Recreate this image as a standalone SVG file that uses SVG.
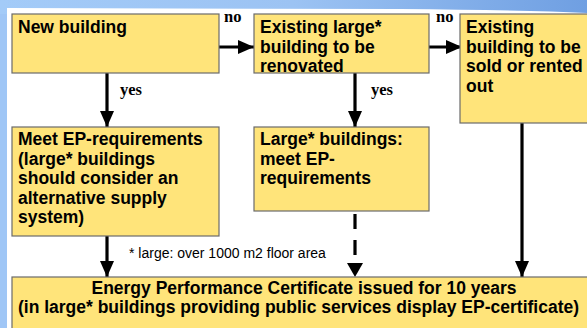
<svg xmlns="http://www.w3.org/2000/svg" width="587" height="328" viewBox="0 0 587 328">
<defs>
<linearGradient id="topg" x1="0" y1="0" x2="1" y2="0">
<stop offset="0" stop-color="#a3cbf8"/>
<stop offset="0.5" stop-color="#9cc3f3"/>
<stop offset="1" stop-color="#6f9fe2"/>
</linearGradient>
<marker id="ah" viewBox="0 0 16 14" refX="16" refY="7" markerWidth="16" markerHeight="14" markerUnits="userSpaceOnUse" orient="auto">
<path d="M0,0 L16,7 L0,14 Z" fill="#000"/>
</marker>
<style>
.box{fill:#ffe47a;stroke:#6b6b6b;stroke-width:1.2}
.t{font-family:"Liberation Sans",Arial,sans-serif;font-weight:bold;font-size:17.5px;fill:#000}
.lbl{font-family:"Liberation Serif","Times New Roman",serif;font-weight:bold;font-size:16.5px;fill:#000}
.note{font-family:"Liberation Sans",Arial,sans-serif;font-size:14px;fill:#000}
.c{stroke:#000;stroke-width:3.2;fill:none}
</style>
</defs>
<rect x="0" y="0" width="587" height="328" fill="#9fc6f6"/>
<rect x="0" y="0" width="587" height="14" fill="url(#topg)"/>
<path d="M7,8 L400,9 Q520,10 587,13 L587,328 L7,328 Z" fill="#ffffff"/>

<g id="connectors">
<line class="c" x1="219" y1="47" x2="254" y2="47" marker-end="url(#ah)"/>
<line class="c" x1="429" y1="47" x2="462" y2="47" marker-end="url(#ah)"/>
<line class="c" x1="107" y1="73" x2="107" y2="127" marker-end="url(#ah)"/>
<line class="c" x1="355" y1="73" x2="355" y2="127" marker-end="url(#ah)"/>
<line class="c" x1="107" y1="236" x2="107" y2="277" marker-end="url(#ah)"/>
<line class="c" x1="355" y1="214" x2="355" y2="263" stroke-dasharray="15 11"/>
<path d="M347,263 L363,263 L355,277 Z" fill="#000"/>
<line class="c" x1="522" y1="123" x2="522" y2="277" marker-end="url(#ah)"/>
<text class="lbl" x="224" y="22">no</text>
<text class="lbl" x="436" y="22">no</text>
<text class="lbl" x="120" y="95">yes</text>
<text class="lbl" x="371" y="95">yes</text>
</g>

<g id="new-building">
<rect class="box" x="12" y="14" width="207" height="59"/>
<text class="t" x="18" y="33">New building</text>
</g>

<g id="existing-large">
<rect class="box" x="254" y="14" width="175" height="59"/>
<text class="t" x="260" y="33">Existing large*</text>
<text class="t" x="260" y="52.5">building to be</text>
<text class="t" x="260" y="72">renovated</text>
</g>

<g id="existing-sold">
<rect class="box" x="460" y="14" width="140" height="109"/>
<text class="t" x="466" y="33">Existing</text>
<text class="t" x="466" y="52.5">building to be</text>
<text class="t" x="466" y="72">sold or rented</text>
<text class="t" x="466" y="91.5">out</text>
</g>

<g id="meet-ep">
<rect class="box" x="12" y="127" width="207" height="109"/>
<text class="t" x="18" y="145">Meet EP-requirements</text>
<text class="t" x="18" y="164.5">(large* buildings</text>
<text class="t" x="18" y="184">should consider an</text>
<text class="t" x="18" y="203.5">alternative supply</text>
<text class="t" x="18" y="223">system)</text>
</g>

<g id="large-meet-ep">
<rect class="box" x="254" y="127" width="175" height="84"/>
<text class="t" x="260" y="145">Large* buildings:</text>
<text class="t" x="260" y="164.5">meet EP-</text>
<text class="t" x="260" y="184">requirements</text>
</g>

<text class="note" x="129" y="258">* large: over 1000 m2 floor area</text>

<g id="certificate">
<rect class="box" x="12" y="277" width="600" height="70"/>
<text class="t" x="304" y="294" text-anchor="middle">Energy Performance Certificate issued for 10 years</text>
<text class="t" x="298.5" y="313" text-anchor="middle">(in large* buildings providing public services display EP-certificate)</text>
</g>
</svg>
